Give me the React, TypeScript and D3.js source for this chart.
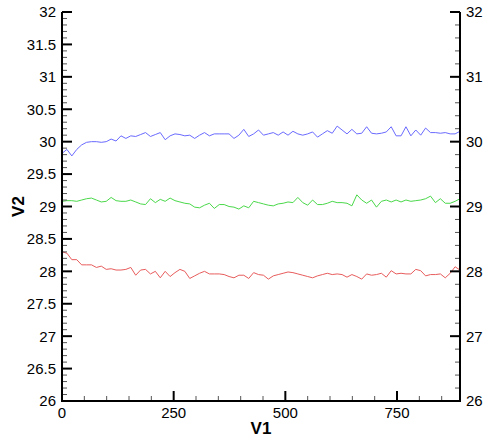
import React from "react";
import * as d3 from "d3";

const V1 = [
  0, 11, 22, 33, 44, 55, 66, 77, 88, 99,
  110, 121, 132, 143, 154, 165, 176, 187, 198, 209,
  220, 231, 242, 253, 264, 275, 286, 297, 308, 319,
  330, 341, 352, 363, 374, 385, 396, 407, 418, 429,
  440, 451, 462, 473, 484, 495, 506, 517, 528, 539,
  550, 561, 572, 583, 594, 605, 616, 627, 638, 649,
  660, 671, 682, 693, 704, 715, 726, 737, 748, 759,
  770, 781, 792, 803, 814, 825, 836, 847, 858, 869,
  880, 891,
];

const BLUE = [
  29.82, 29.88, 29.78, 29.88, 29.95, 29.99, 30.0, 30.0, 29.99, 30.0,
  30.04, 30.01, 30.09, 30.05, 30.09, 30.08, 30.11, 30.14, 30.08, 30.11,
  30.14, 30.03, 30.09, 30.12, 30.11, 30.09, 30.1, 30.05, 30.1, 30.14,
  30.09, 30.12, 30.12, 30.12, 30.12, 30.05, 30.1, 30.19, 30.08, 30.12,
  30.18, 30.1, 30.12, 30.14, 30.1, 30.15, 30.1, 30.16, 30.12, 30.1,
  30.12, 30.15, 30.07, 30.12, 30.17, 30.13, 30.24, 30.18, 30.12, 30.19,
  30.12, 30.13, 30.23, 30.13, 30.12, 30.13, 30.15, 30.23, 30.09, 30.09,
  30.23, 30.09, 30.18, 30.1, 30.21, 30.14, 30.14, 30.13, 30.14, 30.12,
  30.12, 30.16,
];

const GREEN = [
  29.08, 29.09, 29.09, 29.08, 29.1, 29.12, 29.13, 29.1, 29.07, 29.08,
  29.14, 29.09, 29.08, 29.08, 29.1, 29.07, 29.04, 29.03, 29.12, 29.06,
  29.11, 29.08, 29.13, 29.09, 29.07, 29.05, 29.04, 28.99, 28.98, 29.02,
  29.05, 28.97, 29.03, 29.03, 29.0, 28.99, 28.96, 29.01, 28.98, 29.08,
  29.06, 29.04, 29.02, 29.01, 29.04, 29.05, 29.07, 29.06, 29.14, 29.06,
  29.02, 29.1, 29.03, 29.03, 29.05, 29.08, 29.06, 29.06, 29.05, 29.01,
  29.18, 29.1, 29.05, 29.1, 28.99, 29.08, 29.1, 29.07, 29.1, 29.07,
  29.1, 29.08, 29.09, 29.1, 29.12, 29.16, 29.06, 29.12, 29.05, 29.05,
  29.08, 29.12,
];

const RED = [
  28.3, 28.28, 28.18, 28.18, 28.1, 28.1, 28.1, 28.06, 28.08, 28.03,
  28.04, 28.02, 28.02, 28.03, 28.06, 27.94, 28.02, 28.03, 27.96, 28.0,
  27.9, 28.0, 27.92, 27.98, 28.03, 28.0, 27.89, 27.93, 27.97, 28.0,
  27.96, 27.96, 27.96, 27.95, 27.92, 27.9, 27.94, 27.94, 27.89, 27.98,
  27.95, 27.94, 27.88, 27.93, 27.95, 27.97, 27.99, 27.98, 27.96, 27.94,
  27.92, 27.9, 27.93, 27.95, 27.97, 27.95, 27.96, 27.95, 27.91, 27.95,
  27.92, 27.88, 27.96, 27.94, 27.95, 27.97, 27.91, 28.01, 27.96, 27.97,
  27.96, 27.96, 28.03, 28.01, 27.93, 27.95, 27.95, 27.96, 27.9, 27.97,
  28.07, 28.02,
];

const X_MAJOR = [0, 250, 500, 750];
const X_MINOR = [50, 100, 150, 200, 300, 350, 400, 450, 550, 600, 650, 700, 800, 850];
const Y_MAJOR = [26, 26.5, 27, 27.5, 28, 28.5, 29, 29.5, 30, 30.5, 31, 31.5, 32];
const Y_LABELS = ["26", "26.5", "27", "27.5", "28", "28.5", "29", "29.5", "30", "30.5", "31", "31.5", "32"];
const Y2_MAJOR = [26, 27, 28, 29, 30, 31, 32];
const Y2_LABELS = ["26", "27", "28", "29", "30", "31", "32"];

const SERIES = [
  { name: "blue", values: BLUE, color: "#6a6aff" },
  { name: "green", values: GREEN, color: "#4ad84a" },
  { name: "red", values: RED, color: "#e85c5c" },
];

const W = 492;
const H = 441;
const L = 62;
const R = 460;
const T = 12;
const B = 401;
const FONT = "'Liberation Sans', Arial, sans-serif";

export default function App() {
  const x = d3.scaleLinear().domain([0, 891]).range([L, R]);
  const y = d3.scaleLinear().domain([26, 32]).range([B, T]);
  const yMinor: number[] = [];
  for (let i = 0; i < Y_MAJOR.length - 1; i++) {
    for (let k = 1; k < 5; k++) yMinor.push(Y_MAJOR[i] + k * 0.1);
  }
  const y2Minor: number[] = [];
  for (let i = 0; i < Y2_MAJOR.length - 1; i++) {
    for (let k = 1; k < 5; k++) y2Minor.push(Y2_MAJOR[i] + k * 0.2);
  }
  const line = (vals: number[]) =>
    d3
      .line<number>()
      .x((_, i) => x(V1[i]))
      .y((d) => y(d))(vals) || "";

  return (
    <svg
      width={W}
      height={H}
      style={{ position: "absolute", left: 0, top: 0, background: "#fff" }}
    >
      <rect x={0} y={0} width={W} height={H} fill="#fff" />
      {SERIES.map((s) => (
        <path key={s.name} d={line(s.values)} fill="none" stroke={s.color} strokeWidth={1} />
      ))}
      {yMinor.map((v, i) => (
        <line key={"ym" + i} x1={L} x2={L + 5} y1={y(v)} y2={y(v)} stroke="#555" strokeWidth={1} />
      ))}
      {y2Minor.map((v, i) => (
        <line key={"y2m" + i} x1={R} x2={R - 5} y1={y(v)} y2={y(v)} stroke="#555" strokeWidth={1} />
      ))}
      {Y_MAJOR.map((v, i) => (
        <g key={"yM" + i}>
          <line x1={L} x2={L + 10} y1={y(v)} y2={y(v)} stroke="#000" strokeWidth={2} />
          <text x={L - 6} y={y(v)} dy="0.36em" textAnchor="end" fontFamily={FONT} fontSize={15} fill="#000">
            {Y_LABELS[i]}
          </text>
        </g>
      ))}
      {Y2_MAJOR.map((v, i) => (
        <g key={"y2M" + i}>
          <line x1={R} x2={R - 10} y1={y(v)} y2={y(v)} stroke="#000" strokeWidth={2} />
          <text x={R + 6} y={y(v)} dy="0.36em" textAnchor="start" fontFamily={FONT} fontSize={15} fill="#000">
            {Y2_LABELS[i]}
          </text>
        </g>
      ))}
      {X_MINOR.map((v) => (
        <line key={"xm" + v} x1={x(v)} x2={x(v)} y1={B} y2={B - 5} stroke="#555" strokeWidth={1} />
      ))}
      {X_MAJOR.map((v) => (
        <g key={"xM" + v}>
          <line x1={x(v)} x2={x(v)} y1={B} y2={B - 10} stroke="#000" strokeWidth={2} />
          <text x={x(v)} y={B + 17} textAnchor="middle" fontFamily={FONT} fontSize={15} fill="#000">
            {v}
          </text>
        </g>
      ))}
      <line x1={L} x2={L} y1={T} y2={B + 1} stroke="#000" strokeWidth={2} />
      <line x1={R} x2={R} y1={T} y2={B + 1} stroke="#000" strokeWidth={2} />
      <line x1={L - 1} x2={R + 1} y1={B} y2={B} stroke="#000" strokeWidth={2} />
      <text x={(L + R) / 2} y={434} textAnchor="middle" fontFamily={FONT} fontSize={17} fontWeight="bold" fill="#000">
        V1
      </text>
      <text
        transform={`translate(24, ${(T + B) / 2}) rotate(-90)`}
        textAnchor="middle"
        fontFamily={FONT}
        fontSize={17}
        fontWeight="bold"
        fill="#000"
      >
        V2
      </text>
    </svg>
  );
}
